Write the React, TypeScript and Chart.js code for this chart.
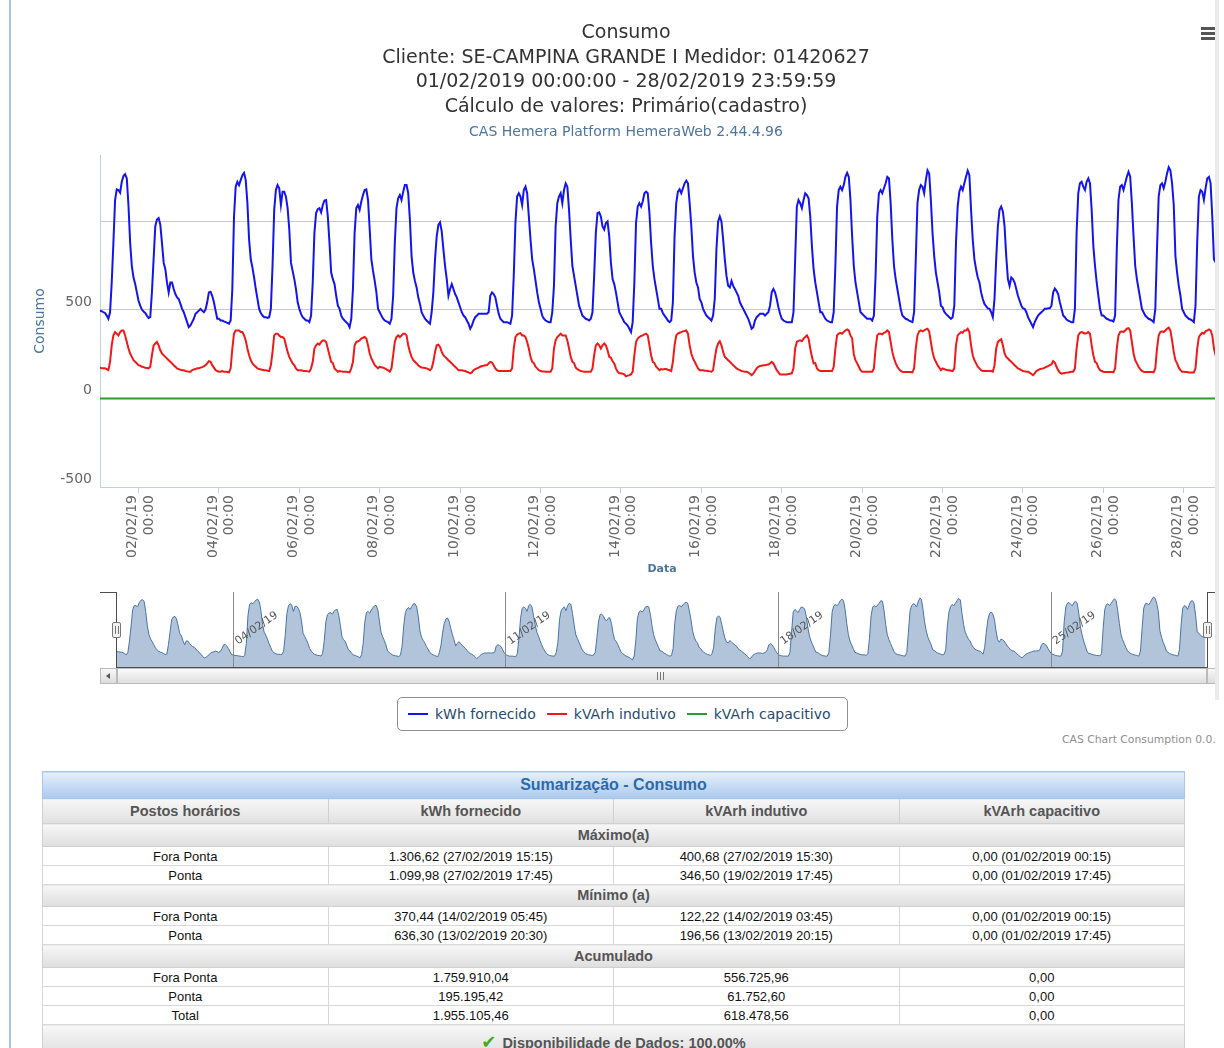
import React, { useEffect, useRef } from 'react';
import { Chart, registerables } from 'chart.js';

Chart.register(...registerables);

// ---------- texts ----------
const titleLines = [
  'Consumo',
  'Cliente: SE-CAMPINA GRANDE I Medidor: 01420627',
  '01/02/2019 00:00:00 - 28/02/2019 23:59:59',
  'Cálculo de valores: Primário(cadastro)',
];
const subtitleText = 'CAS Hemera Platform HemeraWeb 2.44.4.96';
const yAxisTitle = 'Consumo';
const xAxisTitle = 'Data';
const creditsText = 'CAS Chart Consumption 0.0.';

// ---------- series ----------
const seriesNames = ['kWh fornecido', 'kVArh indutivo', 'kVArh capacitivo'];
const seriesColors = ['#1414ee', '#f21818', '#2f9a35'];

// hourly readings from 01/02/2019 00:00, one row per day (24 values)
const kwhFornecido: number[][] = [
  [496, 496, 493, 487, 483, 468, 450, 487, 655, 879, 1121, 1181, 1177, 1162, 1224, 1256, 1267, 1243, 1090, 879, 748, 683, 646, 599],
  [552, 524, 502, 491, 483, 468, 455, 459, 600, 786, 972, 1010, 1019, 981, 879, 767, 730, 655, 599, 655, 655, 618, 590, 571],
  [562, 534, 506, 487, 459, 431, 403, 412, 431, 450, 478, 487, 496, 506, 496, 487, 502, 543, 599, 603, 580, 543, 496, 450],
  [450, 440, 440, 435, 431, 427, 422, 440, 618, 1028, 1196, 1224, 1205, 1233, 1261, 1274, 1233, 1103, 898, 786, 739, 683, 618, 562],
  [506, 483, 468, 459, 459, 455, 459, 506, 748, 1065, 1177, 1205, 1187, 1093, 1168, 1168, 1140, 1075, 954, 767, 720, 674, 618, 543],
  [506, 478, 459, 450, 440, 440, 431, 468, 655, 935, 1047, 1069, 1075, 1051, 1093, 1118, 1121, 1028, 879, 711, 674, 646, 580, 524],
  [506, 468, 450, 440, 431, 422, 403, 450, 618, 935, 1075, 1093, 1065, 1112, 1149, 1177, 1181, 1121, 954, 786, 720, 664, 599, 506],
  [487, 468, 450, 440, 435, 431, 422, 450, 580, 879, 1075, 1131, 1149, 1121, 1168, 1205, 1205, 1159, 1010, 804, 711, 664, 627, 571],
  [534, 487, 468, 450, 440, 431, 422, 487, 599, 786, 916, 981, 995, 944, 842, 748, 674, 580, 618, 646, 618, 590, 571, 543],
  [515, 487, 468, 459, 440, 422, 394, 412, 440, 459, 468, 478, 478, 478, 478, 478, 478, 487, 580, 599, 590, 571, 524, 478],
  [450, 440, 431, 431, 431, 427, 422, 468, 692, 991, 1140, 1159, 1140, 1093, 1177, 1196, 1159, 1028, 898, 786, 730, 664, 599, 543],
  [506, 468, 450, 440, 435, 431, 431, 487, 636, 972, 1103, 1140, 1159, 1103, 1177, 1215, 1196, 1065, 898, 748, 692, 636, 580, 524],
  [496, 468, 459, 450, 446, 440, 450, 487, 692, 935, 1047, 1051, 1028, 972, 954, 991, 1000, 916, 767, 674, 646, 599, 543, 487],
  [468, 450, 431, 422, 412, 394, 375, 431, 655, 991, 1084, 1103, 1084, 1112, 1159, 1168, 1159, 1047, 879, 748, 674, 618, 562, 506],
  [506, 483, 468, 455, 440, 431, 440, 543, 916, 1103, 1168, 1181, 1159, 1187, 1215, 1230, 1215, 1103, 972, 804, 711, 655, 627, 562],
  [543, 506, 487, 468, 459, 450, 440, 468, 562, 842, 1000, 1028, 1000, 898, 786, 692, 636, 627, 664, 636, 618, 599, 580, 543],
  [524, 506, 487, 468, 450, 422, 394, 403, 440, 459, 468, 478, 478, 478, 468, 478, 487, 524, 599, 618, 599, 562, 515, 478],
  [450, 440, 435, 431, 431, 431, 431, 487, 786, 1084, 1121, 1103, 1075, 1121, 1159, 1149, 1131, 1028, 860, 730, 655, 599, 543, 487],
  [487, 468, 450, 440, 435, 431, 431, 487, 748, 1084, 1177, 1196, 1177, 1205, 1252, 1274, 1252, 1121, 916, 748, 655, 599, 543, 487],
  [478, 468, 459, 450, 450, 450, 440, 468, 692, 1028, 1159, 1177, 1159, 1187, 1215, 1252, 1243, 1103, 898, 748, 674, 618, 562, 506],
  [468, 459, 450, 446, 440, 435, 431, 487, 786, 1103, 1177, 1205, 1196, 1159, 1233, 1289, 1271, 1121, 935, 804, 711, 655, 599, 524],
  [515, 490, 478, 468, 459, 450, 459, 524, 879, 1084, 1168, 1196, 1177, 1215, 1252, 1286, 1261, 1065, 898, 786, 730, 683, 655, 599],
  [562, 534, 521, 509, 506, 487, 459, 562, 786, 972, 1065, 1084, 1056, 972, 804, 674, 636, 683, 674, 655, 618, 580, 552, 524],
  [509, 506, 487, 459, 440, 422, 403, 431, 450, 468, 478, 487, 496, 506, 506, 509, 509, 524, 599, 621, 608, 590, 543, 506],
  [468, 459, 446, 440, 435, 431, 431, 506, 935, 1159, 1215, 1224, 1196, 1177, 1224, 1243, 1215, 1065, 860, 748, 655, 580, 506, 468],
  [468, 459, 450, 446, 440, 440, 435, 468, 842, 1121, 1196, 1205, 1177, 1215, 1252, 1280, 1252, 1103, 916, 748, 674, 618, 562, 506],
  [487, 468, 459, 450, 446, 440, 431, 506, 842, 1140, 1205, 1215, 1187, 1224, 1271, 1306, 1289, 1215, 1093, 804, 711, 636, 580, 506],
  [487, 468, 459, 450, 446, 440, 431, 524, 879, 1140, 1177, 1168, 1121, 1187, 1243, 1252, 1215, 1028, 786, 770, 740, 720, 710, 700],
];

const kvarhIndutivo: number[][] = [
  [179, 174, 170, 170, 170, 166, 160, 207, 300, 356, 375, 366, 356, 375, 384, 384, 356, 319, 282, 254, 235, 216, 207, 198],
  [188, 185, 179, 177, 174, 172, 170, 179, 244, 300, 310, 319, 300, 272, 254, 244, 235, 226, 216, 207, 198, 188, 179, 170],
  [166, 162, 160, 159, 155, 153, 151, 151, 160, 164, 166, 170, 170, 174, 177, 181, 188, 198, 211, 207, 188, 174, 160, 155],
  [151, 151, 155, 151, 151, 149, 147, 170, 282, 366, 384, 384, 384, 375, 375, 356, 328, 282, 244, 216, 198, 188, 179, 170],
  [166, 164, 162, 160, 160, 157, 155, 188, 263, 356, 366, 366, 356, 347, 347, 338, 300, 263, 235, 216, 198, 188, 170, 160],
  [160, 159, 157, 155, 155, 153, 151, 170, 207, 282, 300, 310, 304, 319, 328, 328, 319, 282, 244, 207, 200, 170, 160, 151],
  [155, 153, 151, 151, 151, 149, 147, 170, 207, 300, 319, 323, 328, 338, 343, 347, 338, 300, 254, 226, 207, 188, 179, 170],
  [180, 176, 174, 170, 164, 159, 151, 170, 244, 319, 347, 356, 347, 356, 366, 366, 356, 300, 263, 235, 216, 207, 198, 188],
  [179, 175, 174, 172, 170, 166, 160, 170, 207, 263, 300, 304, 291, 263, 244, 235, 226, 216, 207, 198, 188, 179, 170, 160],
  [160, 159, 157, 155, 151, 147, 142, 147, 160, 166, 170, 174, 179, 183, 185, 188, 188, 198, 207, 203, 188, 170, 160, 155],
  [155, 155, 155, 155, 155, 155, 155, 170, 282, 347, 360, 366, 369, 356, 356, 347, 319, 282, 235, 207, 200, 179, 170, 160],
  [155, 153, 153, 151, 151, 151, 151, 170, 282, 328, 347, 356, 366, 356, 356, 356, 328, 282, 235, 207, 200, 174, 166, 160],
  [155, 153, 151, 151, 151, 151, 151, 170, 244, 300, 310, 300, 282, 300, 310, 300, 272, 235, 230, 210, 198, 170, 151, 142],
  [142, 140, 136, 125, 129, 132, 136, 151, 244, 319, 338, 347, 353, 356, 362, 366, 356, 300, 244, 207, 200, 179, 170, 160],
  [166, 164, 166, 166, 162, 159, 155, 207, 300, 356, 366, 371, 375, 379, 381, 384, 366, 300, 254, 226, 207, 188, 170, 160],
  [160, 159, 157, 157, 155, 153, 151, 160, 226, 282, 310, 323, 300, 263, 235, 226, 216, 207, 198, 188, 179, 170, 164, 160],
  [155, 153, 151, 151, 147, 140, 132, 140, 155, 170, 179, 183, 185, 187, 188, 190, 192, 198, 207, 198, 179, 160, 147, 136],
  [136, 136, 136, 136, 138, 140, 142, 170, 282, 319, 325, 328, 323, 338, 347, 356, 338, 282, 235, 198, 200, 170, 160, 155],
  [155, 155, 155, 155, 155, 155, 155, 179, 282, 356, 366, 371, 366, 375, 384, 390, 384, 356, 340, 250, 216, 198, 179, 160],
  [151, 151, 151, 151, 151, 151, 151, 170, 282, 356, 366, 366, 362, 371, 375, 384, 375, 319, 263, 226, 200, 179, 166, 155],
  [151, 149, 149, 149, 149, 149, 147, 170, 282, 356, 379, 384, 379, 384, 390, 394, 379, 319, 263, 226, 207, 188, 174, 160],
  [170, 166, 162, 160, 159, 157, 155, 170, 300, 356, 366, 375, 371, 384, 384, 394, 375, 300, 244, 216, 198, 179, 170, 160],
  [155, 155, 155, 155, 155, 155, 151, 188, 282, 319, 328, 334, 300, 254, 235, 226, 216, 207, 198, 188, 179, 170, 166, 160],
  [155, 153, 151, 151, 146, 138, 132, 142, 155, 160, 166, 168, 170, 174, 179, 183, 188, 192, 211, 203, 179, 160, 147, 140],
  [142, 144, 146, 147, 149, 151, 151, 170, 282, 356, 371, 375, 371, 366, 369, 375, 366, 300, 244, 207, 200, 174, 160, 155],
  [151, 149, 149, 149, 149, 149, 147, 170, 282, 356, 375, 379, 375, 384, 394, 397, 384, 319, 254, 216, 198, 179, 166, 155],
  [151, 149, 149, 149, 149, 149, 147, 170, 282, 356, 375, 379, 375, 384, 394, 400, 384, 328, 263, 216, 198, 174, 160, 151],
  [151, 149, 149, 147, 147, 147, 147, 170, 282, 347, 360, 371, 366, 379, 384, 390, 384, 356, 282, 244, 216, 198, 179, 170],
];

// the summary reports 0,00 kVArh capacitivo for every interval of the month
const kvarhCapacitivoValue = 0;

// ---------- axes ----------
const yTickValues = [-500, 0, 500, 1000];
const yTickLabels = ['-500', '0', '500', '']; // top label hidden (showLastLabel off)
const xTickLabels = ['02/02/19', '04/02/19', '06/02/19', '08/02/19', '10/02/19', '12/02/19', '14/02/19',
  '16/02/19', '18/02/19', '20/02/19', '22/02/19', '24/02/19', '26/02/19', '28/02/19'];
const xTickTime = '00:00';
const navTickLabels = ['04/02/19', '11/02/19', '18/02/19', '25/02/19'];

// ---------- summary table ----------
const summaryTitle = 'Sumarização - Consumo';
const tableColumns = ['Postos horários', 'kWh fornecido', 'kVArh indutivo', 'kVArh capacitivo'];
const maxTitle = 'Máximo(a)';
const maxRows = [
  ['Fora Ponta', '1.306,62 (27/02/2019 15:15)', '400,68 (27/02/2019 15:30)', '0,00 (01/02/2019 00:15)'],
  ['Ponta', '1.099,98 (27/02/2019 17:45)', '346,50 (19/02/2019 17:45)', '0,00 (01/02/2019 17:45)'],
];
const minTitle = 'Mínimo (a)';
const minRows = [
  ['Fora Ponta', '370,44 (14/02/2019 05:45)', '122,22 (14/02/2019 03:45)', '0,00 (01/02/2019 00:15)'],
  ['Ponta', '636,30 (13/02/2019 20:30)', '196,56 (13/02/2019 20:15)', '0,00 (01/02/2019 17:45)'],
];
const accTitle = 'Acumulado';
const accRows = [
  ['Fora Ponta', '1.759.910,04', '556.725,96', '0,00'],
  ['Ponta', '195.195,42', '61.752,60', '0,00'],
  ['Total', '1.955.105,46', '618.478,56', '0,00'],
];
const availabilityText = 'Disponibilidade de Dados: 100,00%';

// ---------- helpers ----------
const FONT = '"DejaVu Sans", "Open Sans", sans-serif';
const dayHour = (label: string) => (parseInt(label.slice(0, 2), 10) - 1) * 24;
const toPoints = (rows: number[][]) => rows.flat().map((v, i) => ({ x: i, y: v }));
const toConst = (rows: number[][], v: number) => rows.flat().map((_, i) => ({ x: i, y: v }));

Chart.defaults.font.family = FONT;

function MainChart() {
  const ref = useRef<HTMLCanvasElement>(null);
  useEffect(() => {
    const chart = new Chart(ref.current as HTMLCanvasElement, {
      type: 'line',
      data: {
        datasets: [
          { label: seriesNames[0], data: toPoints(kwhFornecido), borderColor: seriesColors[0], borderWidth: 2, pointRadius: 0, tension: 0, fill: false },
          { label: seriesNames[1], data: toPoints(kvarhIndutivo), borderColor: seriesColors[1], borderWidth: 2, pointRadius: 0, tension: 0, fill: false },
          { label: seriesNames[2], data: toConst(kwhFornecido, kvarhCapacitivoValue), borderColor: seriesColors[2], borderWidth: 2, pointRadius: 0, tension: 0, fill: false },
        ],
      },
      options: {
        animation: false,
        responsive: false,
        events: [],
        layout: { padding: { left: 28, right: 0, top: 0, bottom: 0 } },
        plugins: {
          legend: { display: false },
          tooltip: { enabled: false },
          title: {
            display: true,
            text: titleLines,
            color: '#333333',
            font: { family: FONT, size: 19, weight: 'normal', lineHeight: 1.3 },
            padding: { top: 20.6, bottom: 0 },
          },
          subtitle: {
            display: true,
            text: subtitleText,
            color: '#4d759e',
            font: { family: FONT, size: 14, weight: 'normal', lineHeight: 1.2 },
            padding: { top: 4.2, bottom: 14.6 },
          },
        },
        scales: {
          x: {
            type: 'linear',
            min: 1,
            max: 672,
            afterBuildTicks: (s: any) => { s.ticks = xTickLabels.map((l) => ({ value: dayHour(l) })); },
            afterFit: (s: any) => { s.height = 98; },
            ticks: {
              autoSkip: false,
              minRotation: 90,
              maxRotation: 90,
              color: '#666666',
              font: { family: FONT, size: 14 },
              padding: 2,
              labelOffset: -6,
              callback: (_v: any, i: number) => [xTickLabels[i], xTickTime],
            },
            grid: { drawOnChartArea: false, drawTicks: true, tickLength: 6, tickColor: '#c0d0e0' },
            border: { display: true, color: '#c0d0e0' },
            title: {
              display: true,
              text: xAxisTitle,
              color: '#4d759e',
              font: { family: FONT, size: 11, weight: 'bold' },
              padding: { top: 0, bottom: 9 },
            },
          },
          y: {
            min: -500,
            max: 1375,
            afterBuildTicks: (s: any) => { s.ticks = yTickValues.map((v) => ({ value: v })); },
            afterFit: (s: any) => { s.width = 72; },
            ticks: {
              color: '#666666',
              font: { family: FONT, size: 14 },
              padding: 8,
              labelOffset: -8,
              callback: (_v: any, i: number) => yTickLabels[i],
            },
            grid: { color: '#c8c8c8', drawTicks: false },
            border: { display: true, color: '#c0d0e0' },
            title: {
              display: true,
              text: yAxisTitle,
              color: '#4d759e',
              font: { family: FONT, size: 14, weight: 'normal', lineHeight: 1.2 },
              padding: { top: 4, bottom: 0 },
            },
          },
        },
      } as any,
    });
    return () => chart.destroy();
  }, []);
  return <canvas ref={ref} width={1224} height={585} style={{ position: 'absolute', left: 0, top: 0, width: 1224, height: 585 }} />;
}

function NavigatorChart() {
  const ref = useRef<HTMLCanvasElement>(null);
  useEffect(() => {
    const chart = new Chart(ref.current as HTMLCanvasElement, {
      type: 'line',
      data: {
        datasets: [
          { label: seriesNames[0], data: toPoints(kwhFornecido), borderColor: '#4a74a8', borderWidth: 1, backgroundColor: 'rgba(69,114,167,0.42)', fill: 'start', pointRadius: 0, tension: 0 },
        ],
      },
      options: {
        animation: false,
        responsive: false,
        events: [],
        layout: { padding: { left: 116.5, right: 17, top: 12, bottom: 23 } },
        plugins: { legend: { display: false }, tooltip: { enabled: false }, title: { display: false }, subtitle: { display: false } },
        scales: {
          x: {
            type: 'linear',
            position: 'top',
            min: 0,
            max: 672,
            afterBuildTicks: (s: any) => { s.ticks = navTickLabels.map((l) => ({ value: dayHour(l) })); },
            afterFit: (s: any) => { s.height = 0; },
            ticks: {
              autoSkip: false,
              mirror: true,
              z: 1,
              minRotation: 35,
              maxRotation: 35,
              padding: 45,
              labelOffset: 3,
              color: '#555555',
              font: { family: FONT, size: 11 },
              callback: (_v: any, i: number) => navTickLabels[i],
            },
            grid: { color: '#8a8a8a', drawTicks: false, lineWidth: 1, z: 1 },
            border: { display: false },
          },
          y: { display: false, min: 270, max: 1380 },
        },
      } as any,
    });
    return () => chart.destroy();
  }, []);
  return <canvas ref={ref} width={1224} height={110} style={{ position: 'absolute', left: 0, top: 580, width: 1224, height: 110 }} />;
}

const abs = (s: React.CSSProperties): React.CSSProperties => ({ position: 'absolute', boxSizing: 'border-box', ...s });

function NavigatorChrome() {
  const line = '#4d4d4d';
  const handle = (left: number) => (
    <div style={abs({ left, top: 622, width: 9, height: 16, background: '#f2f2f2', border: '1px solid #777', borderRadius: 2 })}>
      <div style={abs({ left: 2, top: 3, width: 1, height: 8, background: '#777' })} />
      <div style={abs({ left: 5, top: 3, width: 1, height: 8, background: '#777' })} />
    </div>
  );
  return (
    <>
      {/* outline */}
      <div style={abs({ left: 100, top: 592, width: 17, height: 1, background: line })} />
      <div style={abs({ left: 116, top: 592, width: 1, height: 76, background: line })} />
      <div style={abs({ left: 116, top: 667, width: 1092, height: 1, background: line })} />
      <div style={abs({ left: 1207, top: 592, width: 1, height: 76, background: line })} />
      <div style={abs({ left: 1207, top: 592, width: 17, height: 1, background: line })} />
      {/* scrollbar */}
      <div style={abs({ left: 100, top: 668, width: 1124, height: 16, background: '#eeeeee', border: '1px solid #bbbbbb' })} />
      <div style={abs({ left: 117, top: 668, width: 1090, height: 16, background: 'linear-gradient(#fbfbfb, #dedede)', border: '1px solid #bbbbbb' })} />
      <div style={abs({ left: 100, top: 668, width: 17, height: 16, background: 'linear-gradient(#f8f8f8, #dcdcdc)', border: '1px solid #bbbbbb' })}>
        <div style={{ position: 'absolute', left: 5, top: 4, width: 0, height: 0, borderTop: '3px solid transparent', borderBottom: '3px solid transparent', borderRight: '4px solid #555' }} />
      </div>
      <div style={abs({ left: 1207, top: 668, width: 17, height: 16, background: 'linear-gradient(#f8f8f8, #dcdcdc)', border: '1px solid #bbbbbb' })} />
      <div style={abs({ left: 657, top: 672, width: 1, height: 8, background: '#777' })} />
      <div style={abs({ left: 660, top: 672, width: 1, height: 8, background: '#777' })} />
      <div style={abs({ left: 663, top: 672, width: 1, height: 8, background: '#777' })} />
      {handle(112)}
      {handle(1203)}
    </>
  );
}

function Legend() {
  return (
    <div style={abs({ left: 397, top: 697, width: 451, height: 34, border: '1px solid #909090', borderRadius: 5, display: 'flex', alignItems: 'center', paddingLeft: 10, fontFamily: FONT, fontSize: 14, color: '#274b6d', whiteSpace: 'nowrap' })}>
      {seriesNames.map((n, i) => (
        <div key={n} style={{ display: 'flex', alignItems: 'center', marginRight: 11 }}>
          <span style={{ display: 'inline-block', width: 20, height: 2, background: seriesColors[i], marginRight: 7 }} />
          <span>{n}</span>
        </div>
      ))}
    </div>
  );
}

function SummaryTable() {
  const base: React.CSSProperties = { padding: 0, textAlign: 'center', verticalAlign: 'middle', lineHeight: 1 };
  const sectionCell: React.CSSProperties = { ...base, background: 'linear-gradient(#f7f7f7, #dedede)', color: '#555', fontWeight: 'bold', fontSize: 14.5, border: '1px solid #d0d0d0' };
  const headCell: React.CSSProperties = { ...base, background: 'linear-gradient(#f7f7f7, #e0e0e0)', color: '#555', fontWeight: 'bold', fontSize: 14.5, border: '1px solid #d0d0d0' };
  const dataCell: React.CSSProperties = { ...base, background: '#ffffff', color: '#111', fontSize: 13, border: '1px solid #d8d8d8' };
  const section = (t: string, h: number) => (
    <tr style={{ height: h }}><td colSpan={4} style={sectionCell}>{t}</td></tr>
  );
  const rows = (rs: string[][]) => rs.map((r) => (
    <tr key={r[0] + r[1]} style={{ height: 19 }}>{r.map((c, i) => <td key={i} style={dataCell}>{c}</td>)}</tr>
  ));
  return (
    <table style={{ position: 'absolute', left: 42, top: 771, width: 1143, borderCollapse: 'collapse', tableLayout: 'fixed', fontFamily: '"Liberation Sans", Arial, sans-serif' }}>
      <tbody>
        <tr style={{ height: 27 }}>
          <td colSpan={4} style={{ ...base, background: 'linear-gradient(#e6f0fb, #aac9ee)', color: '#2f6aa7', fontWeight: 'bold', fontSize: 16, border: '1px solid #a9c6e9' }}>{summaryTitle}</td>
        </tr>
        <tr style={{ height: 25 }}>{tableColumns.map((c) => <td key={c} style={headCell}>{c}</td>)}</tr>
        {section(maxTitle, 23)}
        {rows(maxRows)}
        {section(minTitle, 22)}
        {rows(minRows)}
        {section(accTitle, 23)}
        {rows(accRows)}
        <tr style={{ height: 32 }}>
          <td colSpan={4} style={{ ...sectionCell, verticalAlign: 'top', paddingTop: 8 }}>
            <span style={{ color: '#3fae1c', fontFamily: FONT, fontSize: 18, marginRight: 6 }}>✔</span>{availabilityText}
          </td>
        </tr>
      </tbody>
    </table>
  );
}

export default function App() {
  return (
    <div style={{ position: 'absolute', left: 0, top: 0, width: 1224, height: 1048, overflow: 'hidden', background: '#ffffff' }}>
      <div style={abs({ left: 9, top: 0, width: 2, height: 1048, background: '#a9c3e6' })} />
      <div style={abs({ left: 0, top: 0, width: 1215, height: 760, overflow: 'hidden' })}>
        <MainChart />
        <NavigatorChart />
        <NavigatorChrome />
        <Legend />
        <div style={abs({ left: 1201, top: 27, width: 14, height: 3, background: '#555' })} />
        <div style={abs({ left: 1201, top: 32, width: 14, height: 3, background: '#555' })} />
        <div style={abs({ left: 1201, top: 37, width: 14, height: 3, background: '#555' })} />
        <div style={abs({ left: 1062, top: 733, fontFamily: FONT, fontSize: 10.8, color: '#909090', whiteSpace: 'nowrap' })}>{creditsText}</div>
      </div>
      <div style={abs({ left: 1215, top: 0, width: 4, height: 700, background: '#ebebeb' })} />
      <SummaryTable />
    </div>
  );
}
